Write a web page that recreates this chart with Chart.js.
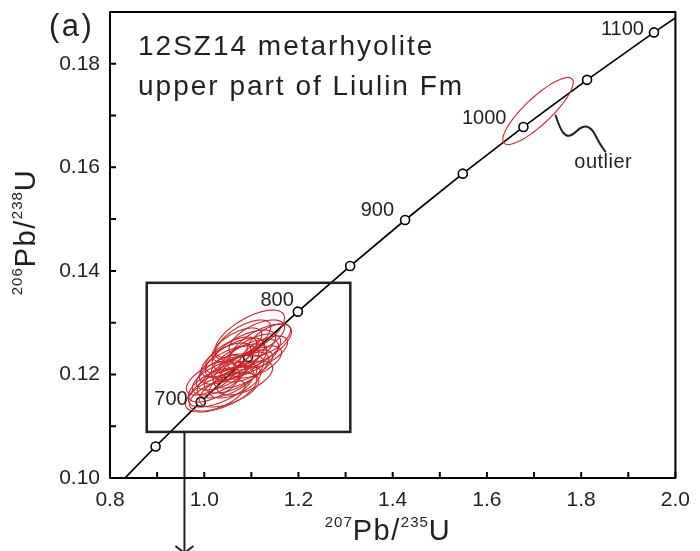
<!DOCTYPE html>
<html><head><meta charset="utf-8">
<script src="https://cdn.jsdelivr.net/npm/chart.js@4.4.1/dist/chart.umd.min.js"></script>
<style>html,body{margin:0;padding:0;background:#fff;}#wrap{width:700px;height:551px;}</style>
</head><body><div id="wrap"><canvas id="c" width="700" height="551"></canvas></div>
<script>
// ---- axis ticks ----
const xTickValues = [0.8, 1.0, 1.2, 1.4, 1.6, 1.8, 2.0];
const xMinorTicks = [0.9, 1.1, 1.3, 1.5, 1.7, 1.9];
const yTickValues = [0.10, 0.12, 0.14, 0.16, 0.18];
const yMinorTicks = [0.11, 0.13, 0.15, 0.17];

// ---- concordia curve (Ma, 207Pb/235U, 206Pb/238U) ----
const concordiaAges = [600, 650, 700, 750, 800, 850, 900, 950, 1000, 1050, 1100, 1150];
const concordiaX = [0.80563, 0.89677, 0.99251, 1.09308, 1.19873, 1.30971, 1.42630, 1.54875, 1.67741, 1.81255, 1.95452, 2.10366];
const concordiaY = [0.09754, 0.10609, 0.11470, 0.12338, 0.13213, 0.14094, 0.14983, 0.15878, 0.16780, 0.17690, 0.18606, 0.19530];

// ---- age markers and labels ----
const markerAges = [650, 700, 750, 800, 850, 900, 950, 1000, 1050, 1100];
const labelAges = [700, 800, 900, 1000, 1100];

// ---- analyses: centre, 2-sigma half widths, error correlation ----
const ellipseX   = [1.0968,1.1200,1.1116,1.0842,1.0653,1.0737,1.0526,1.0905,1.0421,1.0632,1.0316,1.0484,1.0211,1.0358,1.0358,1.0526,1.0947,1.1053,1.0779,1.0568,1.0463,1.1263,1.0695,1.0147,1.0863,1.0274,1.1116,1.0653,1.0821,1.1368,1.7084];
const ellipseY   = [0.12781,0.12569,0.12704,0.12472,0.12318,0.12241,0.12183,0.12163,0.12048,0.12009,0.11932,0.11893,0.11796,0.11758,0.11661,0.11700,0.12318,0.12434,0.12086,0.12376,0.12279,0.12434,0.12569,0.11932,0.11932,0.11603,0.12241,0.11854,0.12666,0.12666,0.17088];
const ellipseSX  = [0.0737,0.0653,0.0589,0.0674,0.0632,0.0589,0.0632,0.0547,0.0589,0.0632,0.0568,0.0632,0.0547,0.0695,0.0758,0.0632,0.0632,0.0568,0.0589,0.0547,0.0526,0.0505,0.0526,0.0526,0.0589,0.0589,0.0526,0.0547,0.0589,0.0463,0.0747];
const ellipseSY  = [0.00463,0.00406,0.00348,0.00386,0.00386,0.00348,0.00367,0.00309,0.00348,0.00367,0.00328,0.00348,0.00328,0.00386,0.00386,0.00328,0.00367,0.00348,0.00348,0.00348,0.00328,0.00309,0.00328,0.00328,0.00328,0.00309,0.00309,0.00309,0.00386,0.00309,0.00647];
const ellipseRho = [0.66,0.64,0.60,0.64,0.62,0.60,0.62,0.60,0.62,0.60,0.60,0.58,0.62,0.64,0.60,0.56,0.62,0.60,0.60,0.64,0.62,0.60,0.62,0.62,0.58,0.56,0.60,0.58,0.65,0.62,0.85];

// ---- annotations ----
const titleLines = ['12SZ14 metarhyolite', 'upper part of Liulin Fm'];
const panelLabel = '(a)';
const outlierText = 'outlier';
const outlierLeaderX = [1.7459, 1.7543, 1.7684, 1.7825, 1.7964, 1.8105, 1.8246, 1.8385, 1.8512];
const outlierLeaderY = [0.17001, 0.16758, 0.16595, 0.16628, 0.16758, 0.16802, 0.16725, 0.16468, 0.16305];
const insetBoxX = [0.878, 1.310];
const insetBoxY = [0.1089, 0.1377];
const insetPointerX = 0.958;

const FONT = "'Liberation Sans', Arial, Helvetica, sans-serif";
const INK = '#231f20';
const RED = '#d02228';

function markerXY(age){ const i = concordiaAges.indexOf(age); return {x: concordiaX[i], y: concordiaY[i]}; }

const labelOffsets = {700:[-13,3], 800:[-4,-6], 900:[-11,-4], 1000:[-17,-3], 1100:[-10,3]};

function richText(ctx, parts, x, y, align, rotate){
  ctx.save();
  ctx.translate(x, y);
  if (rotate) ctx.rotate(-Math.PI/2);
  let total = 0;
  parts.forEach(p => { ctx.font = p.size + 'px ' + FONT; ctx.letterSpacing = (p.ls||0) + 'px'; p.w = ctx.measureText(p.t).width; total += p.w; });
  let cx = align === 'center' ? -total/2 : 0;
  ctx.textBaseline = 'alphabetic'; ctx.textAlign = 'left'; ctx.fillStyle = INK;
  parts.forEach(p => { ctx.font = p.size + 'px ' + FONT; ctx.letterSpacing = (p.ls||0) + 'px'; ctx.fillText(p.t, cx, -(p.dy||0)); cx += p.w; });
  ctx.restore();
}

const decor = {
  id: 'decor',
  afterDatasetsDraw(chart){
    const {ctx, chartArea: a, scales: {x, y}} = chart;
    ctx.save();
    // ellipses
    ctx.strokeStyle = RED; ctx.lineWidth = 1.1;
    for (let i = 0; i < ellipseX.length; i++){
      const r = ellipseRho[i], q = Math.sqrt(1 - r*r);
      ctx.beginPath();
      for (let k = 0; k <= 96; k++){
        const t = k / 96 * Math.PI * 2;
        const dx = ellipseX[i] + ellipseSX[i] * Math.cos(t);
        const dy = ellipseY[i] + ellipseSY[i] * (r * Math.cos(t) + q * Math.sin(t));
        const px = x.getPixelForValue(dx), py = y.getPixelForValue(dy);
        if (k === 0) ctx.moveTo(px, py); else ctx.lineTo(px, py);
      }
      ctx.closePath(); ctx.stroke();
    }
    // inset box + pointer
    ctx.strokeStyle = INK; ctx.lineWidth = 2.5;
    const bx0 = x.getPixelForValue(insetBoxX[0]), bx1 = x.getPixelForValue(insetBoxX[1]);
    const by0 = y.getPixelForValue(insetBoxY[1]), by1 = y.getPixelForValue(insetBoxY[0]);
    ctx.strokeRect(bx0, by0, bx1 - bx0, by1 - by0);
    const pxp = x.getPixelForValue(insetPointerX);
    ctx.lineWidth = 2;
    ctx.beginPath(); ctx.moveTo(pxp, by1); ctx.lineTo(pxp, chart.height + 2); ctx.stroke();
    ctx.beginPath(); ctx.moveTo(pxp - 9, chart.height - 5); ctx.lineTo(pxp, chart.height + 2); ctx.lineTo(pxp + 9, chart.height - 5); ctx.stroke();
    // outlier leader
    ctx.lineWidth = 2; ctx.lineJoin = 'round'; ctx.lineCap = 'round';
    const pts = outlierLeaderX.map((v, i) => [x.getPixelForValue(v), y.getPixelForValue(outlierLeaderY[i])]);
    ctx.beginPath(); ctx.moveTo(pts[0][0], pts[0][1]);
    for (let i = 1; i < pts.length - 1; i++){
      const mx = (pts[i][0] + pts[i+1][0]) / 2, my = (pts[i][1] + pts[i+1][1]) / 2;
      ctx.quadraticCurveTo(pts[i][0], pts[i][1], mx, my);
    }
    ctx.lineTo(pts[pts.length-1][0], pts[pts.length-1][1]); ctx.stroke();
    // frame
    ctx.lineWidth = 2; ctx.strokeStyle = '#000'; ctx.lineCap = 'butt';
    ctx.strokeRect(a.left, a.top, a.right - a.left, a.bottom - a.top);
    // inner ticks
    const tl = 6;
    ctx.beginPath();
    xTickValues.concat(xMinorTicks).forEach(v => { const p = x.getPixelForValue(v); ctx.moveTo(p, a.bottom); ctx.lineTo(p, a.bottom - tl); });
    yTickValues.concat(yMinorTicks).forEach(v => { const p = y.getPixelForValue(v); ctx.moveTo(a.left, p); ctx.lineTo(a.left + tl, p); });
    ctx.stroke();
    // age labels
    ctx.fillStyle = INK; ctx.font = '20px ' + FONT; ctx.textAlign = 'right'; ctx.textBaseline = 'alphabetic';
    labelAges.forEach(age => {
      const m = markerXY(age), o = labelOffsets[age];
      ctx.fillText(String(age), x.getPixelForValue(m.x) + o[0], y.getPixelForValue(m.y) + o[1]);
    });
    // outlier text
    ctx.textAlign = 'left'; ctx.letterSpacing = '0.5px';
    ctx.fillText(outlierText, x.getPixelForValue(outlierLeaderX[outlierLeaderX.length-1]) - 31, y.getPixelForValue(outlierLeaderY[outlierLeaderY.length-1]) + 16);
    // title
    ctx.font = '28px ' + FONT; ctx.letterSpacing = '2px';
    ctx.fillText(titleLines[0], a.left + 28, 55);
    ctx.fillText(titleLines[1], a.left + 28, 95);
    ctx.font = '31px ' + FONT; ctx.letterSpacing = '2.5px';
    ctx.fillText(panelLabel, 49, 36);
    ctx.letterSpacing = '0px';
    ctx.restore();
    // axis titles
    richText(ctx, [{t:'207', size:15, dy:13, ls:1}, {t:'Pb/', size:29, ls:1.5}, {t:'235', size:15, dy:13, ls:1}, {t:'U', size:29, ls:1.5}], 388, 540, 'center', false);
    richText(ctx, [{t:'206', size:15, dy:13, ls:1}, {t:'Pb/', size:29, ls:1.5}, {t:'238', size:15, dy:13, ls:1}, {t:'U', size:29, ls:1.5}], 35, 232, 'center', true);
  }
};

new Chart(document.getElementById('c'), {
  type: 'scatter',
  data: { datasets: [
    { label: 'Age markers (Ma)', data: markerAges.map(a => markerXY(a)), showLine: false,
      pointRadius: 4.5, pointBackgroundColor: '#fff', pointBorderColor: '#000', pointBorderWidth: 1.6 },
    { label: 'Concordia', data: concordiaX.map((v, i) => ({x: v, y: concordiaY[i]})), showLine: true,
      pointRadius: 0, borderColor: '#000', borderWidth: 1.7, fill: false }
  ]},
  options: {
    responsive: false, animation: false, events: [],
    layout: { padding: { left: 0, right: 20, top: 0, bottom: 0 } },
    plugins: { legend: { display: false }, tooltip: { enabled: false } },
    scales: {
      x: { type: 'linear', min: 0.8, max: 2.0,
        afterBuildTicks: s => { s.ticks = xTickValues.map(v => ({value: v})); },
        afterFit: s => { s.height = 73; },
        grid: { display: false, drawTicks: false }, border: { display: false },
        ticks: { padding: 10, color: INK, font: { family: FONT, size: 21 }, maxRotation: 0, autoSkip: false, callback: v => Number(v).toFixed(1) } },
      y: { type: 'linear', min: 0.10, max: 0.19,
        afterBuildTicks: s => { s.ticks = yTickValues.map(v => ({value: v})); },
        afterFit: s => { s.width = 110; s.paddingTop = 12; s.paddingBottom = 0; },
        grid: { display: false, drawTicks: false }, border: { display: false },
        ticks: { padding: 10, color: INK, font: { family: FONT, size: 21 }, autoSkip: false, callback: v => Number(v).toFixed(2) } }
    }
  },
  plugins: [decor]
});
</script>
</body></html>
